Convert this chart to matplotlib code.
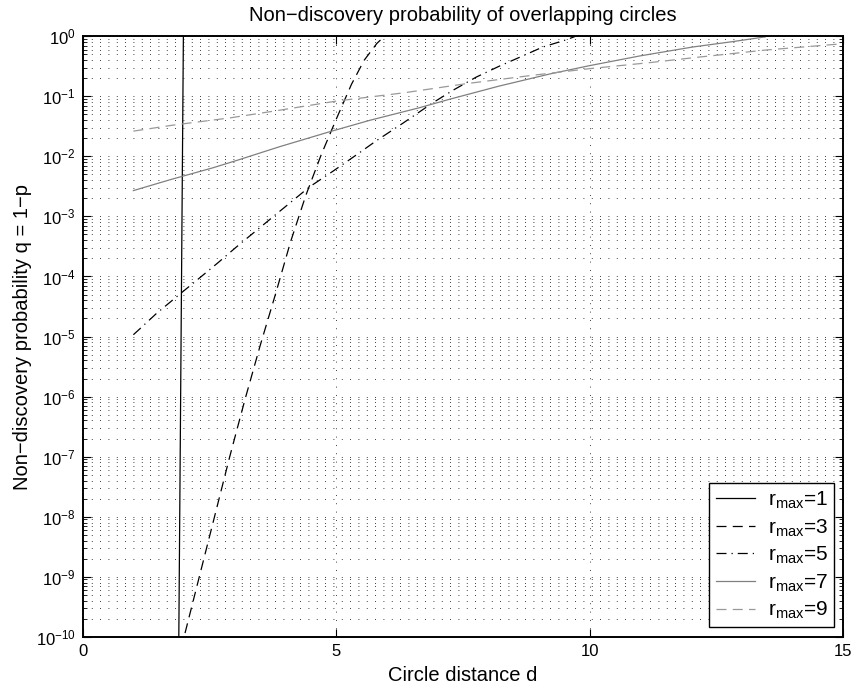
#!/usr/bin/env python
"""Non-discovery probability of overlapping circles versus circle distance."""

import matplotlib

matplotlib.use("Agg")
import matplotlib.pyplot as plt
from matplotlib.ticker import LogLocator, NullFormatter

plt.rcParams["font.family"] = ["Liberation Sans", "DejaVu Sans"]
plt.rcParams["mathtext.fontset"] = "custom"
plt.rcParams["mathtext.rm"] = "Liberation Sans"
plt.rcParams["mathtext.it"] = "Liberation Sans"

# distances d and log10(q), one pair of lists per r_max
d_r1 = [1.878, 1.986]
logq_r1 = [-12.0, 0.0]

d_r3 = [1.94, 2.0, 2.3, 2.6, 2.9, 3.2, 3.5, 3.8, 4.1, 4.4, 4.7, 5.0, 5.3, 5.55, 5.8, 5.95]
logq_r3 = [-10.2, -10.0, -9.0, -8.0, -7.0, -6.05, -5.15, -4.3, -3.42, -2.65,
           -1.98, -1.38, -0.80, -0.40, -0.12, 0.0]

d_r5 = [1.0, 1.13, 1.45, 1.95, 2.24, 2.67, 3.03, 3.23, 3.49, 3.82, 4.47, 4.93,
        5.39, 5.79, 6.31, 6.90, 7.30, 7.76, 8.21, 8.67, 9.07, 9.53, 9.72]
logq_r5 = [-4.97, -4.87, -4.62, -4.27, -4.07, -3.77, -3.51, -3.37, -3.19, -2.96,
           -2.51, -2.25, -1.98, -1.74, -1.45, -1.11, -0.90, -0.68, -0.50, -0.33,
           -0.18, -0.06, 0.0]

d_r7 = [1.0, 1.32, 1.72, 2.57, 3.03, 3.88, 4.87, 5.66, 6.64, 7.23, 8.21, 9.20,
        9.99, 10.97, 12.02, 12.81, 13.46]
logq_r7 = [-2.57, -2.49, -2.39, -2.19, -2.07, -1.84, -1.59, -1.40, -1.19, -1.05,
           -0.83, -0.63, -0.49, -0.33, -0.18, -0.09, -0.01]

d_r9 = [1.0, 1.78, 2.90, 3.82, 5.00, 6.35, 7.56, 8.87, 9.99, 11.17, 12.12, 13.46,
        14.91]
logq_r9 = [-1.58, -1.48, -1.36, -1.24, -1.08, -0.94, -0.79, -0.65, -0.54, -0.44,
           -0.35, -0.23, -0.13]

r_max = [1, 3, 5, 7, 9]
styles = [
    {"color": "black", "linestyle": "-"},
    {"color": "black", "linestyle": (0, (8, 5))},
    {"color": "black", "linestyle": (0, (8, 4, 1, 4))},
    {"color": "0.5", "linestyle": "-"},
    {"color": "0.6", "linestyle": (0, (8, 5))},
]


def main() -> None:
    fig = plt.figure(figsize=(8.52, 6.84), dpi=100)
    ax = fig.add_axes([0.097, 0.069, 0.893, 0.878])

    curves = [(d_r1, logq_r1), (d_r3, logq_r3), (d_r5, logq_r5),
              (d_r7, logq_r7), (d_r9, logq_r9)]
    for (d, logq), r, style in zip(curves, r_max, styles):
        q = [10.0 ** v for v in logq]
        ax.plot(d, q, linewidth=0.9, label=f"r$_{{\\mathrm{{max}}}}$={r}", **style)

    ax.set_yscale("log")
    ax.set_xlim(0, 15)
    ax.set_ylim(1e-10, 1)
    ax.set_xticks([0, 5, 10, 15])
    ax.yaxis.set_major_locator(LogLocator(base=10, numticks=20))
    ax.yaxis.set_minor_locator(LogLocator(base=10, subs=range(2, 10), numticks=20))
    ax.yaxis.set_minor_formatter(NullFormatter())

    grid_style = {"color": "black", "linestyle": (0, (1, 9)), "linewidth": 0.6}
    ax.grid(True, which="major", axis="both", **grid_style)
    ax.grid(True, which="minor", axis="y", **grid_style)

    ax.tick_params(which="both", direction="in", top=True, right=True, labelsize=12)
    ax.tick_params(which="major", length=6, width=0.8, pad=5)
    ax.tick_params(which="minor", length=3, width=0.6)
    for spine in ax.spines.values():
        spine.set_linewidth(1.4)

    ax.set_title("Non\u2212discovery probability of overlapping circles", fontsize=14.5, pad=11)
    ax.set_xlabel("Circle distance d", fontsize=14.5, labelpad=5)
    ax.set_ylabel("Non\u2212discovery probability q = 1\u2212p", fontsize=14.5, labelpad=3)

    legend = ax.legend(loc="lower right", fontsize=15, frameon=True, fancybox=False,
                       borderpad=0.3, labelspacing=0.3, handlelength=1.9,
                       handletextpad=0.6, borderaxespad=0.45)
    legend.get_frame().set_edgecolor("black")
    legend.get_frame().set_linewidth(1.0)
    legend.get_frame().set_alpha(1.0)

    fig.savefig("out.png", dpi=100)
    plt.close(fig)


if __name__ == "__main__":
    main()
